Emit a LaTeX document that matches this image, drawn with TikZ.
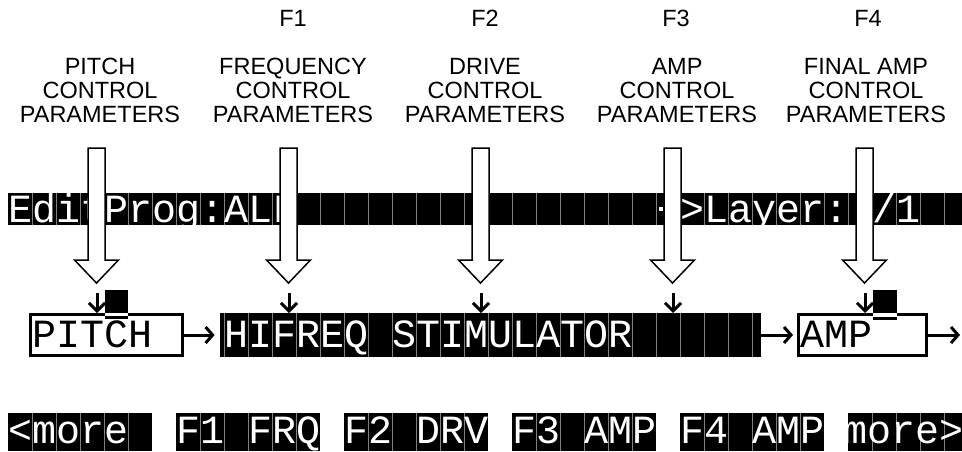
\documentclass[tikz,border=0pt]{standalone}
\usepackage{fontspec}
\setmainfont{Liberation Sans}
\newfontfamily\lcdfont{Liberation Mono}
\usetikzlibrary{arrows.meta}

\tikzset{
  paramtext/.style={font=\fontsize{11.75}{12}\selectfont, align=center, inner sep=0pt, anchor=north},
  lcdtext/.style={font=\lcdfont\fontsize{20}{20}\selectfont, inner sep=0pt, anchor=base west},
  cellline/.style={gray, line width=0.5pt},
  hollow/.style={draw, fill=white, line width=0.75pt},
  flow/.style={line width=1.5pt, -{Straight Barb[length=3.5pt,width=8pt]}},
  pointer/.style={line width=1.5pt, -{Straight Barb[length=4pt,width=8pt]}},
  framebox/.style={draw, line width=1.5pt, minimum height=20.5pt, inner sep=0pt},
}

\begin{document}
\begin{tikzpicture}[x=0.5pt, y=-0.5pt]
  \useasboundingbox (0,0) rectangle (962,451);
  \clip (0,0) rectangle (962,451);

  % soft button names
  \node[paramtext] (f1) at (293,10) {F1};
  \node[paramtext] (f2) at (485,10) {F2};
  \node[paramtext] (f3) at (676,10) {F3};
  \node[paramtext] (f4) at (868,10) {F4};

  % parameter groups
  \node[paramtext] (pitchpar) at (100,58) {PITCH\\CONTROL\\PARAMETERS};
  \node[paramtext] (freqpar) at (293,58) {FREQUENCY\\CONTROL\\PARAMETERS};
  \node[paramtext] (drivepar) at (485,58) {DRIVE\\CONTROL\\PARAMETERS};
  \node[paramtext] (amppar) at (677,58) {AMP\\CONTROL\\PARAMETERS};
  \node[paramtext] (finalpar) at (866,58) {FINAL AMP\\CONTROL\\PARAMETERS};

  % top line of the display
  \fill (8,193) rectangle (962,225);
  \foreach \i in {1,...,39}
    \draw[cellline] ({8+24*\i},193) -- ({8+24*\i},225);
  \node[lcdtext, white] (edit) at (8,222) {EditProg:ALL};
  \fill[white] (659,207) rectangle (663,211);
  \node[lcdtext, white] (layer) at (680,222) {>Layer:};
  \node[lcdtext, white] (count) at (872,222) {/1};

  % hollow arrows
  \foreach \c in {96.5,288.5,480.5,672.5,864.5}
    \draw[hollow] ({\c-8.5},148) -- ({\c+8.5},148) -- ({\c+8.5},260) -- ({\c+22},260)
      -- (\c,283) -- ({\c-22},260) -- ({\c-8.5},260) -- cycle;

  % little pointers
  \foreach \c in {97,289,481,673,865}
    \draw[pointer] (\c,293) -- (\c,313);

  % algorithm line
  \node[framebox, minimum width=76pt] (pitch) at (106.5,335) {};
  \node[fill, minimum width=270.5pt, minimum height=22pt, inner sep=0pt] (hifreq) at (490.5,335) {};
  \node[framebox, minimum width=64pt] (amp) at (862.5,335) {};
  \foreach \i in {9,...,31}
    \draw[cellline] ({8+24*\i},313) -- ({8+24*\i},357);
  \node[lcdtext] (pitchname) at (32,347) {PITCH};
  \node[lcdtext, white] (stimname) at (224,347) {HIFREQ STIMULATOR};
  \node[lcdtext] (ampname) at (800,347) {AMP};

  % cursors
  \fill (105,290) rectangle (128,313);
  \fill[white] (105,313) rectangle (128,316);
  \fill (105,316) rectangle (128,319);
  \fill (873,290) rectangle (897,313);
  \fill[white] (873,313) rectangle (897,317);
  \fill (873,317) rectangle (897,320);

  \coordinate (out) at (962,335);
  \draw[flow, shorten >=2.5pt] (pitch.east) -- (hifreq.west);
  \draw[flow, shorten >=2pt] (hifreq.east) -- (amp.west);
  \draw[flow, shorten >=1pt] (amp.east) -- (out);

  % soft buttons
  \foreach \k in {0,...,5} {
    \fill ({8+168*\k},413) rectangle ({152+168*\k},451);
    \foreach \j in {1,...,5}
      \draw[cellline] ({8+24*(7*\k+\j)},413) -- ({8+24*(7*\k+\j)},451);
  }
  \node[lcdtext, white] (more1) at (8,443) {<more};
  \node[lcdtext, white] (frq) at (176,443) {F1 FRQ};
  \node[lcdtext, white] (drv) at (344,443) {F2 DRV};
  \node[lcdtext, white] (amp1) at (512,443) {F3 AMP};
  \node[lcdtext, white] (amp2) at (680,443) {F4 AMP};
  \node[lcdtext, white] (more2) at (843,443) {more>};
\end{tikzpicture}
\end{document}
